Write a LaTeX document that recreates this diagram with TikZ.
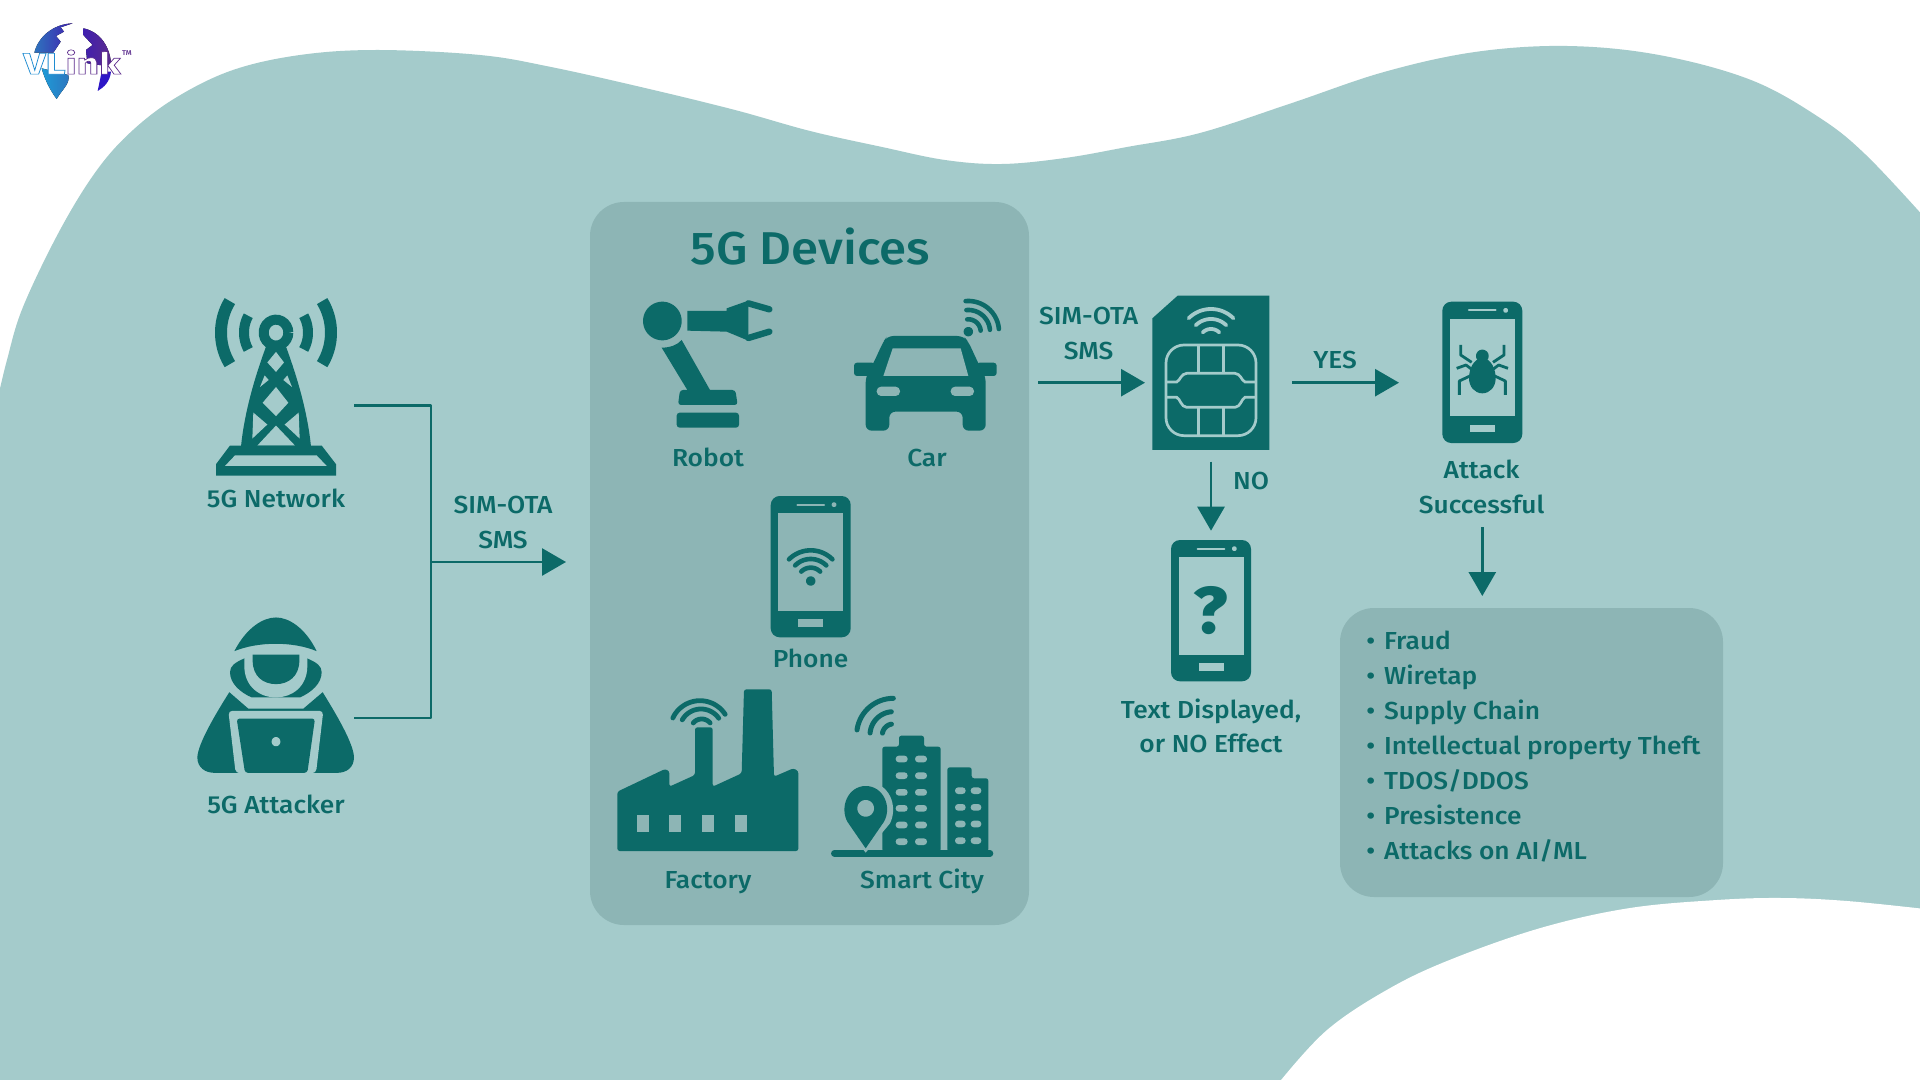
\documentclass[tikz,border=0pt]{standalone}
\usepackage{fontspec}
\usetikzlibrary{arrows.meta}
\setmainfont{Fira Sans Medium}[FakeStretch=1.07]
\newfontfamily\logofont{Fira Sans Bold}[FakeBold=2]
\definecolor{bgc}{HTML}{A4CBCB}
\definecolor{panelc}{HTML}{8DB5B5}
\definecolor{darkc}{HTML}{0C6A68}
\definecolor{logoa}{HTML}{1E9BD7}
\definecolor{logom}{HTML}{2E74BE}
\definecolor{logob}{HTML}{5B2C8D}
\tikzset{
 labm/.style={text=darkc,align=center,inner sep=0pt,font=\fontsize{12.3}{17.25}\selectfont},
 lab/.style={labm,text height=10.4pt,text depth=1pt},
 itemlab/.style={lab,anchor=west,align=left},
 conn/.style={draw=darkc,line width=1.4pt},
 arr/.style={conn,-{Triangle[length=12pt,width=13.5pt]}},
 panel/.style={fill=panelc,rounded corners=17pt},
}
% colour, width(pt), cx, cy, r, a1, a2
\newcommand{\warc}[8][line cap=round]{\draw[#2,line width=#3pt,#1] plot[domain=#7:#8,samples=24] ({#4+#6*cos(\x)},{#5-#6*sin(\x)});}
\newcommand{\disc}[4]{\fill[#1] plot[domain=0:360,samples=48] ({#2+#4*cos(\x)},{#3-#4*sin(\x)}) -- cycle;}
\begin{document}
\begin{tikzpicture}[x=0.5pt,y=-0.5pt]
\path[use as bounding box] (0,0) rectangle (1920,1080);
\fill[white] (0,0) rectangle (1920,1080);
\begin{scope}
\clip (0,0) rectangle (1920,1080);
\fill[bgc] plot[smooth,tension=0.6] coordinates {(-3,402) (7,360) (23,307) (60,230) (97,170) (133,130) (177,97) (233,70) (300,55) (377,50) (480,55) (551,67) (645,88) (735,110) (810,131) (882,147) (945,160) (1002,164) (1065,158) (1127,147) (1200,133) (1292,103) (1384,72) (1475,52) (1567,46) (1659,55) (1751,80) (1820,118) (1866,155) (1925,218)}
 -- (1925,1085) -- (-3,1085) -- cycle;
\fill[white] plot[smooth,tension=0.6] coordinates {(1925,909) (1847,901) (1782,898) (1717,900) (1630,908) (1544,927) (1457,957) (1392,987) (1327,1030) (1277,1085)}
 -- (1925,1085) -- cycle;
\end{scope}
% logo
\begin{scope}[scale=0.33333]
\fill[left color=logom,right color=logob!70!blue] (218,70) .. controls (160,72) and (115,110) .. (103,158) -- (160,158) -- (182,125) -- (168,108) -- (192,95) -- (182,82) -- cycle;
\fill[left color=logob!70!blue,right color=logob] (250,85) .. controls (300,95) and (332,140) .. (334,200) -- (262,190) -- (258,150) -- (278,135) -- (250,105) -- cycle;
\fill[left color=logoa,right color=logom] (125,205) -- (205,225) .. controls (212,250) and (185,270) .. (170,297) .. controls (150,270) and (135,240) .. (125,205) -- cycle;
\fill[logob!50!blue] (305,215) -- (333,215) .. controls (330,245) and (312,262) .. (293,273) -- cycle;
\end{scope}
\node[inner sep=0pt,xscale=1.3] (logotext) at (72,62) {\fontsize{15}{15}\logofont\special{pdf:bc [1 1 1] [0.12 0.55 0.82]}VL\special{pdf:ec}\special{pdf:bc [1 1 1] [0.36 0.17 0.55]}ink\special{pdf:ec}};
\node[inner sep=0pt,text=logob] (logotm) at (127,53) {\fontsize{3.5}{4}\selectfont TM};

% tower
\begin{scope}[shift={(180,280)},xscale=0.33333,yscale=0.3508]
\warc[line cap=butt]{darkc}{5}{288}{150}{37}{0}{360}
\warc[line cap=butt]{darkc}{5}{288}{150}{96}{150}{210}
\warc[line cap=butt]{darkc}{5}{288}{150}{96}{-30}{30}
\warc[line cap=butt]{darkc}{6}{288}{150}{165}{147}{213}
\warc[line cap=butt]{darkc}{6}{288}{150}{165}{-33}{33}
\fill[darkc] (258,190) .. controls (235,250) and (195,360) .. (183,475) -- (393,475) .. controls (381,360) and (341,250) .. (318,190) -- cycle;
\fill[bgc] (288,205) -- (312,235) -- (288,262) -- (262,235) -- cycle;
\fill[bgc] (288,305) -- (325,350) -- (288,388) -- (248,350) -- cycle;
\fill[bgc] (254,272) -- (266,285) -- (240,305) -- cycle;
\fill[bgc] (322,272) -- (310,285) -- (336,305) -- cycle;
\fill[bgc] (288,415) -- (345,472) -- (232,472) -- cycle;
\fill[bgc] (220,378) -- (262,412) -- (217,452) -- cycle;
\fill[bgc] (356,378) -- (314,412) -- (359,452) -- cycle;
\fill[darkc] (108,525) -- (150,472) -- (425,472) -- (468,525) -- (468,558) -- (108,558) -- cycle;
\fill[bgc] (135,530) -- (165,500) -- (410,500) -- (440,530) -- cycle;
% attacker
\fill[darkc] (163,1058) .. controls (200,990) and (250,962) .. (288,962) .. controls (325,962) and (375,990) .. (410,1058) .. controls (340,1030) and (235,1030) .. (163,1058) -- cycle;
\fill[darkc] (195,1078) .. controls (165,1090) and (150,1100) .. (150,1118) .. controls (150,1150) and (180,1175) .. (215,1190) -- (360,1190) .. controls (395,1175) and (425,1150) .. (425,1118) .. controls (425,1100) and (410,1090) .. (380,1078) -- cycle;
\fill[bgc] (193,1066) -- (193,1100) .. controls (193,1160) and (240,1190) .. (288,1190) .. controls (335,1190) and (382,1160) .. (382,1100) -- (382,1066) -- cycle;
\fill[darkc] (218,1068) -- (358,1068) -- (358,1085) .. controls (358,1130) and (325,1152) .. (288,1152) .. controls (250,1152) and (218,1130) .. (218,1085) -- cycle;
\fill[darkc] (148,1175) -- (205,1222) -- (370,1222) -- (428,1175) .. controls (470,1240) and (520,1320) .. (522,1360) .. controls (522,1390) and (500,1405) .. (470,1405) -- (105,1405) .. controls (75,1405) and (52,1390) .. (52,1360) .. controls (55,1320) and (105,1240) .. (148,1175) -- cycle;
\fill[bgc,rounded corners=2pt] (145,1228) -- (430,1228) -- (408,1406) -- (167,1406) -- cycle;
\fill[darkc,rounded corners=1.5pt] (170,1250) -- (405,1250) -- (382,1405) -- (195,1405) -- cycle;
\disc{bgc}{288}{1316}{13}
\end{scope}
\node[lab] (network) at (276,498.4) {5G Network};
\node[lab] (attacker) at (276,804.5) {5G Attacker};

% connectors left
\coordinate (netout) at (354,405.5);
\coordinate (atkout) at (354,718);
\coordinate (cornerA) at (431,405.5);
\coordinate (cornerB) at (431,718);
\coordinate (joint) at (431,562);
\coordinate (devin) at (566,562);
\draw[conn,line join=round] (netout) -- (cornerA) -- (cornerB) -- (atkout);
\draw[arr] (joint) -- (devin);
\node[labm] (sms1) at (503,522.5) {SIM-OTA\\SMS};

% panels
\fill[panel] (590,202) rectangle (1029,925);
\fill[panel] (1340,608) rectangle (1723,897);
\node[inner sep=0pt,text=darkc,font=\fontsize{23}{26}\selectfont] (title) at (810.5,247) {5G Devices};

% robot
\begin{scope}[shift={(600,280)},scale=0.33333]
\disc{darkc}{187}{123}{58}
\fill[darkc] (262,93) -- (380,93) -- (380,85) -- (445,62) -- (445,105) -- (445,140) -- (445,182) -- (380,155) -- (262,152) -- cycle;
\draw[darkc,line width=3.2pt,line cap=round] (445,70) -- (508,88);
\draw[darkc,line width=3.2pt,line cap=round] (445,174) -- (508,155);
\fill[darkc] (185,203) .. controls (210,203) and (232,195) .. (245,180) -- (330,330) -- (262,330) -- cycle;
\fill[darkc,rounded corners=1.5pt] (240,330) -- (406,330) -- (413,375) -- (234,375) -- cycle;
\fill[darkc,rounded corners=1.5pt] (230,398) rectangle (417,443);
% car
\fill[darkc,rounded corners=3pt] (850,185) -- (862,168) -- (1090,168) -- (1105,185) -- (1135,250) -- (1157,290) -- (1157,452) -- (1088,452) -- (1088,395) -- (868,395) -- (868,452) -- (797,452) -- (797,290) -- (820,250) -- cycle;
\fill[darkc,rounded corners=1.5pt] (762,248) rectangle (825,288);
\fill[darkc,rounded corners=1.5pt] (1130,248) rectangle (1190,288);
\fill[panelc] (878,205) -- (1082,205) -- (1105,288) -- (850,288) -- cycle;
\fill[panelc,rounded corners=2.2pt] (830,320) rectangle (900,348);
\fill[panelc,rounded corners=2.2pt] (1052,320) rectangle (1122,348);
\disc{darkc}{1105}{155}{14}
\warc{darkc}{2.3}{1105}{155}{37}{5}{95}
\warc{darkc}{2.3}{1105}{155}{65}{5}{95}
\warc{darkc}{2.3}{1105}{155}{92}{5}{95}
\end{scope}
\node[lab] (robot) at (708,456.7) {Robot};
\node[lab] (car) at (927,456.7) {Car};

% phones
\foreach \pc/\px/\py in {panelc/770.7/496,bgc/1442.3/301.7,bgc/1171/540}{
 \begin{scope}[shift={(\px,\py)},scale=0.33333]
 \fill[darkc,rounded corners=4.5pt] (0,0) rectangle (240,424);
 \fill[\pc] (23,52) rectangle (218,344);
 \fill[\pc] (83,369) rectangle (158,392);
 \draw[\pc,line width=1pt,line cap=round] (80,26) -- (160,26);
 \disc{\pc}{190}{26}{7}
 \end{scope}
}
\begin{scope}[shift={(770.7,496)},scale=0.33333]
 \disc{darkc}{120}{255}{14}
 \warc{darkc}{2.3}{120}{255}{40}{45}{135}
 \warc{darkc}{2.3}{120}{255}{66}{45}{135}
 \warc{darkc}{2.3}{120}{255}{92}{45}{135}
\end{scope}
\node[lab] (phone) at (810.6,657.6) {Phone};

% factory and city
\begin{scope}[shift={(600,670)},scale=0.33333]
\fill[darkc,rounded corners=1.2pt] (52,365) -- (195,297) -- (208,303) -- (208,350) -- (285,315) -- (285,172) -- (338,172) -- (338,350) -- (425,310) -- (432,58) -- (515,58) -- (522,320) -- (580,295) -- (595,303) -- (595,543) -- (52,543) -- cycle;
\foreach \wx in {110,208,306,404}{\fill[panelc] (\wx,435) rectangle (\wx+36,485);}
\warc{darkc}{2.4}{305}{180}{33}{40}{140}
\warc{darkc}{2.4}{303}{182}{65}{35}{150}
\warc{darkc}{2.4}{300}{182}{90}{33}{155}
% city
\fill[darkc,rounded corners=1.2pt] (897,230) -- (897,197) -- (972,197) -- (972,230) -- (1022,230) -- (1022,545) -- (847,545) -- (847,230) -- cycle;
\fill[darkc,rounded corners=1.2pt] (1042,545) -- (1042,292) -- (1115,292) -- (1115,325) -- (1165,325) -- (1165,545) -- cycle;
\foreach \wy in {267,317,367,415,465,515}{
 \fill[panelc,rounded corners=1.6pt] (887,\wy-10) rectangle (923,\wy+10);
 \fill[panelc,rounded corners=1.6pt] (945,\wy-10) rectangle (981,\wy+10);}
\foreach \wy in {362,412,462,512}{
 \fill[panelc,rounded corners=1.6pt] (1065,\wy-10) rectangle (1097,\wy+10);
 \fill[panelc,rounded corners=1.6pt] (1112,\wy-10) rectangle (1144,\wy+10);}
\draw[darkc,line width=3.3pt,line cap=round] (703,550) -- (1170,550);
\fill[panelc] (797,548) -- (732,465) .. controls (710,420) and (725,335) .. (797,335) .. controls (870,335) and (895,410) .. (870,460) -- cycle;
\fill[darkc] (797,535) -- (742,455) .. controls (718,410) and (745,348) .. (797,348) .. controls (850,348) and (877,410) .. (852,455) -- cycle;
\disc{panelc}{797}{415}{25}
\warc{darkc}{2.5}{880}{195}{33}{100}{170}
\warc{darkc}{2.5}{880}{195}{70}{95}{175}
\warc{darkc}{2.5}{880}{195}{110}{90}{172}
\end{scope}
\node[lab] (factory) at (708,879) {Factory};
\node[lab] (city) at (922,879) {Smart City};

% SIM, bug, question mark
\begin{scope}[shift={(1030,280)},scale=0.33333]
\fill[darkc] (443,47) -- (718,47) -- (718,510) -- (367,510) -- (367,115) -- cycle;
\warc{bgc}{1.9}{543}{182}{35}{45}{135}
\warc{bgc}{1.9}{543}{182}{65}{45}{135}
\warc{bgc}{1.9}{543}{182}{95}{45}{135}
\draw[bgc,line width=1.35pt,rounded corners=9pt] (408,195) rectangle (678,467);
\draw[bgc,line width=1.35pt] (505,195) -- (505,280) (580,195) -- (580,280) (505,467) -- (505,382) (580,467) -- (580,382);
\draw[bgc,line width=1.35pt] (408,306) -- (440,306) .. controls (452,300) and (452,282) .. (470,280) -- (615,280) .. controls (633,282) and (633,300) .. (645,306) -- (678,306);
\draw[bgc,line width=1.35pt] (408,352) -- (440,352) .. controls (452,358) and (452,380) .. (470,382) -- (615,382) .. controls (633,380) and (633,358) .. (645,352) -- (678,352);
% bug
\disc{darkc}{1357}{228}{19}
\fill[darkc] (1357,235) .. controls (1385,235) and (1397,270) .. (1397,295) .. controls (1397,320) and (1380,340) .. (1357,340) .. controls (1334,340) and (1317,320) .. (1317,295) .. controls (1317,270) and (1329,235) .. (1357,235) -- cycle;
\draw[darkc,line width=1.4pt,line join=round] (1292,195) -- (1292,225) -- (1325,247) (1422,195) -- (1422,225) -- (1389,247)
 (1280,265) -- (1308,255) -- (1325,268) (1434,265) -- (1406,255) -- (1389,268)
 (1288,345) -- (1288,303) -- (1322,287) (1426,345) -- (1426,303) -- (1392,287);
\end{scope}
\node[inner sep=0pt,text=darkc,font=\fontsize{33}{35}\selectfont\bfseries] (qmark) at (1211,611) {?};
\coordinate (simin0) at (1038,382.7);
\coordinate (simin1) at (1145,382.7);
\coordinate (yes0) at (1292,382.7);
\coordinate (yes1) at (1399,382.7);
\coordinate (no0) at (1211,461.7);
\coordinate (no1) at (1211,530.7);
\coordinate (atk0) at (1482.3,527);
\coordinate (atk1) at (1482.3,596);
\draw[arr] (simin0) -- (simin1);
\draw[arr] (yes0) -- (yes1);
\draw[arr] (no0) -- (no1);
\draw[arr] (atk0) -- (atk1);
\node[labm] (sms2) at (1088.6,333.5) {SIM-OTA\\SMS};
\node[lab] (yes) at (1335,359) {YES};
\node[lab] (no) at (1251,480) {NO};
\node[labm] (attack) at (1481.6,487) {Attack\\Successful};
\node[labm] (text) at (1211,726) {Text Displayed,\\or NO Effect};

% list
\node[itemlab] (i1) at (1366,640) {•\hspace{4.5pt}Fraud};
\node[itemlab] (i2) at (1366,675) {•\hspace{4.5pt}Wiretap};
\node[itemlab] (i3) at (1366,710) {•\hspace{4.5pt}Supply Chain};
\node[itemlab] (i4) at (1366,745.5) {•\hspace{4.5pt}Intellectual property Theft};
\node[itemlab] (i5) at (1366,780) {•\hspace{4.5pt}TDOS/DDOS};
\node[itemlab] (i6) at (1366,815.5) {•\hspace{4.5pt}Presistence};
\node[itemlab] (i7) at (1366,850) {•\hspace{4.5pt}Attacks on AI/ML};
\end{tikzpicture}
\end{document}
